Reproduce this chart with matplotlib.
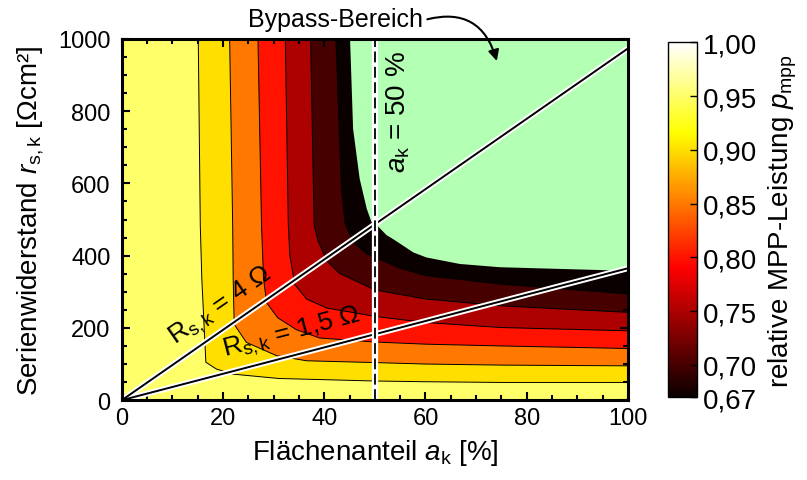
import numpy as np
import matplotlib.pyplot as plt
from matplotlib import cm
from matplotlib.colors import Normalize

plt.rcParams['font.family'] = 'Liberation Sans'
plt.rcParams['mathtext.fontset'] = 'custom'
plt.rcParams['mathtext.rm'] = 'Liberation Sans'
plt.rcParams['mathtext.it'] = 'Liberation Sans:italic'

# Isolinien der relativen MPP-Leistung: Flächenanteil a_k [%] / Serienwiderstand r_s,k [Ohm cm^2]
iso_095_a = [15.1, 15.5, 15.8, 16.6, 18.7, 22.0, 31.0, 50.0, 60.0, 75.0, 100.0]
iso_095_r = [1000, 484, 337, 105, 86, 72, 60, 53, 51, 49, 49]
iso_090_a = [21.3, 21.9, 22.0, 22.2, 24.6, 30.6, 36.5, 50.0, 60.0, 75.0, 100.0]
iso_090_r = [1000, 484, 335, 210, 160, 123, 109, 104, 100, 97, 95]
iso_085_a = [26.9, 27.6, 28.0, 28.6, 30.8, 34.5, 39.1, 50.0, 60.0, 75.0, 100.0]
iso_085_r = [1000, 484, 337, 270, 228, 195, 172, 161, 155, 150, 143]
iso_080_a = [32.3, 32.9, 33.2, 34.2, 36.5, 40.5, 50.0, 60.0, 75.0, 100.0]
iso_080_r = [1000, 484, 400, 320, 280, 255, 232, 215, 201, 192]
iso_075_a = [37.3, 38.0, 38.8, 40.5, 43.1, 47.0, 50.0, 60.0, 75.0, 100.0]
iso_075_r = [1000, 484, 440, 385, 350, 325, 305, 280, 261, 243]
iso_070_a = [42.3, 43.4, 44.1, 45.7, 48.4, 50.0, 55.0, 60.0, 75.0, 100.0]
iso_070_r = [1000, 584, 490, 437, 405, 395, 365, 345, 321, 294]
# Grenze zum Bypass-Bereich
bypass_a = [45.1, 45.7, 47.0, 48.4, 49.3, 50.0, 52.3, 53.6, 57.6, 60.2, 66.8, 74.7, 100.0]
bypass_r = [1000, 751, 613, 530, 494, 490, 457, 446, 409, 395, 377, 368, 358]

levels = [0.67, 0.70, 0.75, 0.80, 0.85, 0.90, 0.95, 1.00]
level_labels = ['0,67', '0,70', '0,75', '0,80', '0,85', '0,90', '0,95', '1,00']

# Zellfläche 156 mm x 156 mm und Linien konstanten Widerstands
cell_area = 243.36
R_values = [4.0, 1.5]
R_labels = ['4 Ω', '1,5 Ω']

norm = Normalize(0.67, 1.0)
cmap = plt.get_cmap('hot')
bypass_color = '#b3ffb3'

fig = plt.figure(figsize=(8.07, 4.81), dpi=100)
ax = fig.add_axes([0.151, 0.166, 0.627, 0.751])

ax.set_facecolor(cmap(norm(0.95)))
isolines = [(iso_095_a, iso_095_r, 0.90), (iso_090_a, iso_090_r, 0.85),
            (iso_085_a, iso_085_r, 0.80), (iso_080_a, iso_080_r, 0.75),
            (iso_075_a, iso_075_r, 0.70), (iso_070_a, iso_070_r, 0.67)]
for a, r, lev in isolines:
    ax.fill(a + [100], r + [1000], color=cmap(norm(lev)), lw=0, zorder=1)
    ax.plot(a, r, color='k', lw=0.7, zorder=2)
ax.fill(bypass_a + [100], bypass_r + [1000], color=bypass_color, lw=0, zorder=3)

# Linien konstanten Serienwiderstands R_s,k
a_line = np.array([0.0, 100.0])
for R in R_values:
    r_line = R * cell_area * a_line / 100
    ax.plot(a_line, r_line, color='white', lw=4.2, zorder=4, solid_capstyle='butt')
    ax.plot(a_line, r_line, color='k', lw=1.4, zorder=5, solid_capstyle='butt')

ax.text(19.6, 262, r'$\mathrm{R}_\mathrm{s,k}$ = ' + R_labels[0], fontsize=19,
        rotation=34.7, rotation_mode='anchor', ha='center', va='center', zorder=6)
ax.text(33.6, 188, r'$\mathrm{R}_\mathrm{s,k}$ = ' + R_labels[1], fontsize=19,
        rotation=14.6, rotation_mode='anchor', ha='center', va='center', zorder=6)

# a_k = 50 %
ax.axvline(50, color='white', lw=4.5, zorder=6)
ax.axvline(50, color='k', lw=1.3, dashes=(6, 2.5), zorder=7)
ax.text(54.6, 800, r'$\mathit{a}_\mathrm{k}$ = 50 %', fontsize=20, rotation=90,
        ha='center', va='center', zorder=8)

ax.annotate('Bypass-Bereich', xy=(74.1, 939), xycoords='data',
            xytext=(0.416, 0.958), textcoords='figure fraction',
            ha='center', va='center', fontsize=18, zorder=9, annotation_clip=False,
            arrowprops=dict(arrowstyle='-|>', color='k', lw=1.5, mutation_scale=16,
                            connectionstyle='arc3,rad=-0.5', relpos=(1.0, 0.45),
                            shrinkA=1, shrinkB=0))

ax.set_xlim(0, 100)
ax.set_ylim(0, 1000)
ax.set_xticks(np.arange(0, 101, 20))
ax.set_xticks(np.arange(0, 101, 5), minor=True)
ax.set_yticks(np.arange(0, 1001, 200))
ax.set_yticks(np.arange(0, 1001, 50), minor=True)
ax.tick_params(which='both', direction='in', top=True, right=True, width=1.5, labelsize=17)
ax.tick_params(which='major', length=6)
ax.tick_params(which='minor', length=3.5)
ax.tick_params(axis='x', pad=5)
ax.tick_params(axis='y', pad=8)
for side in ax.spines.values():
    side.set_linewidth(2.2)
    side.set_zorder(10)

ax.set_xlabel(r'Flächenanteil $\mathit{a}_\mathrm{k}$ [%]', fontsize=20, labelpad=6)
ax.set_ylabel(r'Serienwiderstand $\mathit{r}_\mathrm{s,k}$ [Ωcm²]', fontsize=20, labelpad=9)

cax = fig.add_axes([0.8275, 0.172, 0.0367, 0.738])
sm = cm.ScalarMappable(norm=norm, cmap=cmap)
cb = fig.colorbar(sm, cax=cax, ticks=levels)
cb.ax.set_yticklabels(level_labels)
cb.ax.tick_params(direction='in', length=5, width=1, labelsize=20, pad=4)
cb.outline.set_linewidth(1)
cb.set_label(r'relative MPP-Leistung $\mathit{p}_\mathrm{mpp}$', fontsize=20, labelpad=7)

fig.savefig('out.png', dpi=100)
